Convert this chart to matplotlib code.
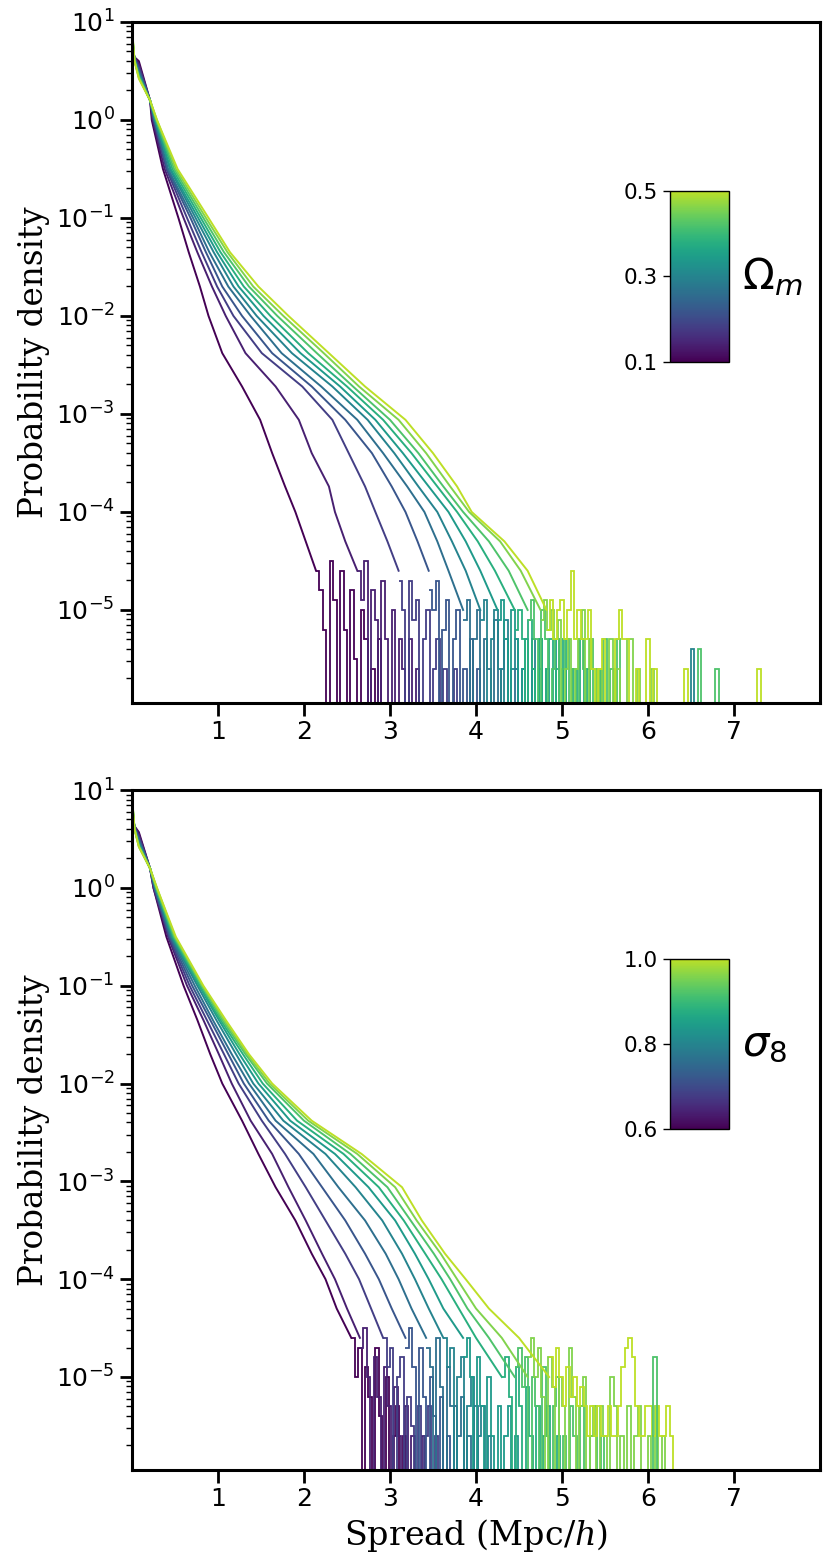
import numpy as np
import matplotlib
matplotlib.use("Agg")
import matplotlib.pyplot as plt
from matplotlib.colors import ListedColormap, Normalize
from matplotlib.cm import ScalarMappable

# parameter value of every curve, dark -> light
omega_m = [0.10, 0.14, 0.18, 0.22, 0.26, 0.30, 0.34, 0.38, 0.42, 0.46, 0.50]
sigma_8 = [0.60, 0.64, 0.68, 0.72, 0.76, 0.80, 0.84, 0.88, 0.92, 0.96, 1.00]

# the steep start near zero: log10(density)*100 at these spreads
front_x = [0.0, 0.03, 0.08]
omega_front = [[70, 64, 60], [72, 64, 57], [75, 63, 54], [78, 63, 51], [82, 62, 49], [85, 62, 47],
               [87, 61, 46], [89, 61, 45], [91, 60, 44], [93, 60, 43], [95, 60, 42]]
sigma_front = [[72, 63, 57], [74, 63, 55], [77, 62, 52], [80, 62, 50], [83, 61, 48], [86, 61, 46],
               [88, 61, 45], [90, 60, 44], [92, 60, 43], [93, 60, 42], [94, 60, 42]]

# smooth part: spread where each curve crosses these log10(density)*100 levels
body_levels = [20, 0, -50, -100, -135, -170, -200, -238, -272, -306, -340, -374, -400, -430, -460, -500]
omega_body = [
    [0.21, 0.23, 0.36, 0.54, 0.66, 0.79, 0.89, 1.05, 1.28, 1.49, 1.63, 1.78, 1.90, 2.02, 2.14],
    [0.21, 0.24, 0.38, 0.60, 0.76, 0.93, 1.09, 1.32, 1.67, 1.94, 2.09, 2.29, 2.36, 2.48, 2.62],
    [0.21, 0.25, 0.40, 0.64, 0.81, 0.99, 1.18, 1.51, 1.98, 2.33, 2.52, 2.71, 2.83, 2.97, 3.10],
    [0.21, 0.26, 0.41, 0.68, 0.86, 1.05, 1.28, 1.63, 2.09, 2.48, 2.79, 3.02, 3.18, 3.32, 3.45],
    [0.21, 0.26, 0.42, 0.71, 0.90, 1.12, 1.38, 1.74, 2.20, 2.62, 2.92, 3.20, 3.40, 3.55, 3.68, 3.85],
    [0.21, 0.27, 0.44, 0.74, 0.95, 1.18, 1.45, 1.86, 2.33, 2.74, 3.05, 3.33, 3.55, 3.72, 3.88, 4.05],
    [0.21, 0.27, 0.45, 0.77, 0.99, 1.24, 1.53, 1.96, 2.42, 2.83, 3.15, 3.45, 3.68, 3.88, 4.05, 4.25],
    [0.21, 0.28, 0.47, 0.80, 1.03, 1.30, 1.61, 2.05, 2.50, 2.92, 3.25, 3.55, 3.78, 4.02, 4.22, 4.45],
    [0.21, 0.28, 0.49, 0.83, 1.07, 1.36, 1.69, 2.15, 2.57, 3.00, 3.33, 3.62, 3.85, 4.15, 4.38, 4.60],
    [0.21, 0.29, 0.51, 0.86, 1.11, 1.41, 1.76, 2.23, 2.64, 3.10, 3.42, 3.70, 3.92, 4.28, 4.52, 4.75],
    [0.21, 0.29, 0.53, 0.89, 1.14, 1.47, 1.82, 2.29, 2.71, 3.18, 3.50, 3.78, 3.95, 4.33, 4.60, 4.82],
]
sigma_body = [
    [0.21, 0.25, 0.40, 0.60, 0.76, 0.91, 1.05, 1.28, 1.47, 1.67, 1.90, 2.09, 2.25, 2.38, 2.55],
    [0.21, 0.25, 0.42, 0.64, 0.83, 1.01, 1.16, 1.38, 1.63, 1.82, 2.02, 2.21, 2.36, 2.50, 2.65],
    [0.21, 0.26, 0.43, 0.67, 0.87, 1.07, 1.24, 1.51, 1.78, 2.02, 2.25, 2.48, 2.64, 2.78, 2.92],
    [0.21, 0.26, 0.44, 0.70, 0.91, 1.12, 1.30, 1.59, 1.94, 2.21, 2.48, 2.71, 2.87, 3.02, 3.18],
    [0.21, 0.27, 0.45, 0.73, 0.94, 1.16, 1.36, 1.67, 2.11, 2.40, 2.71, 2.95, 3.10, 3.25, 3.42],
    [0.21, 0.27, 0.46, 0.76, 0.98, 1.21, 1.41, 1.76, 2.25, 2.60, 2.91, 3.14, 3.29, 3.45, 3.62],
    [0.21, 0.28, 0.47, 0.78, 1.01, 1.25, 1.47, 1.84, 2.36, 2.75, 3.06, 3.29, 3.45, 3.62, 3.85],
    [0.21, 0.28, 0.48, 0.79, 1.03, 1.29, 1.52, 1.92, 2.46, 2.87, 3.16, 3.41, 3.60, 3.80, 4.00, 4.30],
    [0.21, 0.28, 0.49, 0.81, 1.05, 1.32, 1.57, 2.00, 2.54, 2.97, 3.24, 3.51, 3.70, 3.90, 4.15, 4.45],
    [0.21, 0.29, 0.50, 0.82, 1.07, 1.34, 1.60, 2.05, 2.62, 3.06, 3.31, 3.59, 3.78, 4.00, 4.30, 4.60],
    [0.21, 0.29, 0.51, 0.83, 1.09, 1.36, 1.63, 2.09, 2.67, 3.14, 3.37, 3.64, 3.88, 4.15, 4.50, 4.85],
]

# noisy tail: log10(density)*10 in bins of tail_w starting where the body ends, 0 = empty bin
tail_w = 0.04
omega_tail = [
    [-46, -48, -52, 0, -45, -49, 0, -46, -52, 0, -48, -55, 0, -50, -53, 0, -56, 0, -53, 0],
    [-46, -49, -45, 0, -48, -51, 0, -47, -53, 0, -50, 0, -53, -56, 0, -53, 0, -56, 0],
    [-47, -50, 0, -47, -51, -49, 0, -53, -50, 0, -56, -53, 0, -56, 0, 0, -56, 0],
    [-48, -50, -47, 0, -52, -49, 0, -53, -50, 0, -56, 0, -53, 0, -56, 0],
    [-51, -49, 0, -53, -50, 0, -53, -56, 0, -51, 0, -56, -53, 0, 0, -56, 0],
    [-51, -49, 0, -53, -50, -56, 0, -51, 0, -56, -53, 0, -56, 0, 0, -53, 0, -56, 0],
    [-51, -49, -53, 0, -50, -53, 0, -56, -53, 0, -56, 0, -53, 0, -56, 0, 0, -53, 0, -56, 0],
    [-52, -50, -53, 0, -51, -56, 0, -53, 0, -56, -53, 0, -56, 0, -53, 0, 0, -56, 0, -53, 0, -56,
     0, 0, -56, 0],
    [-51, -49, -53, 0, -50, -53, 0, -56, -53, 0, -56, -53, 0, -56, 0, -53, -56, 0, -53, 0, -56, 0,
     -53, 0, -56, 0, -53, 0],
    [-51, -49, -52, -50, -53, -51, 0, -56, -53, 0, -56, -53, -50, 0, -53, -56, 0, -56, 0, 0, -53,
     0, -56, 0, 0, -53, -53, 0, -56, 0, 0, 0, -56, 0],
    [-52, -49, -53, -50, -49, -53, -50, -46, -53, -50, -53, -53, -50, -56, 0, -56, -53, 0, 0, 0,
     -53, -50, -53, -53, 0, 0, -56, 0, 0, -53, 0, -56, 0],
]
sigma_tail = [
    [-46, -50, -47, 0, -49, -52, 0, -47, -54, 0, -50, 0, -56, -53, 0, -56, 0],
    [-47, -45, -50, 0, -48, -52, 0, -49, -53, 0, -51, -56, 0, -53, 0, -56, 0, 0, -56, 0],
    [-46, -49, -47, 0, -50, -48, 0, -52, -55, 0, -53, 0, -56, -53, 0, -56, 0],
    [-47, -45, -49, 0, -47, -52, 0, -50, -54, 0, -52, 0, -56, 0, -53, 0],
    [-47, -49, 0, -46, -51, 0, -49, -53, 0, -56, -52, 0, -56, 0, -53, 0],
    [-46, -49, -47, 0, -50, -48, 0, -53, -50, 0, -56, -53, 0, -56, 0],
    [-48, -46, -50, 0, -48, -53, 0, -50, -56, 0, -53, 0, -56, -53, 0, -56, 0],
    [-50, -48, -52, 0, -49, -53, 0, -51, -56, 0, -53, 0, -56, -53, 0, 0, -56, 0],
    [-49, -47, -51, -48, 0, -50, -53, 0, -49, -56, 0, -53, -50, 0, -56, 0, -53, -56, 0, -53, 0,
     0, -56, -53, 0, -56, 0],
    [-48, -46, -50, -47, -52, 0, -48, -51, 0, -50, -53, 0, -47, -52, 0, -53, -50, 0, -56, -53, 0,
     -53, -56, 0, -50, -53, 0, -56, 0, -53, 0, -56, -53, 0, 0, -56, 0, -53, 0, -56, 0],
    [-48, -51, -47, -50, -53, -49, -52, -50, -53, -51, -53, -56, -53, -56, -53, -56, -56, -53, -56,
     -56, -53, -49, -47, -46, -48, -53, -56, -56, -53, -53, -56, -53, -56, -56, -53, -56, 0],
]

# isolated far-out bins: (spread, log10(density)*10, curve index)
omega_far = [(6.42, -56, 10), (6.50, -54, 5), (6.58, -54, 8), (6.78, -56, 8), (7.27, -56, 10)]
sigma_far = [(6.06, -48, 8)]

cmap = ListedColormap(plt.cm.viridis(np.linspace(0, 0.9, 256)))


def draw_panel(ax, params, fronts, bodies, tails, far, vmin, vmax):
    norm = Normalize(vmin, vmax)
    for i, p in enumerate(params):
        c = cmap(norm(p))
        xs = list(front_x) + list(bodies[i])
        ys = list(fronts[i]) + body_levels[:len(bodies[i])]
        ax.plot(xs, 10 ** (np.array(ys) / 100), color=c, lw=1.4)
        t = tails[i]
        edges = bodies[i][-1] + tail_w * np.arange(len(t) + 1)
        vals = [10 ** (v / 10) if v else 0 for v in t]
        ax.stairs(vals, edges, baseline=None, color=c, lw=1.3)
    for x, v, k in far:
        ax.stairs([10 ** (v / 10)], [x, x + tail_w], baseline=0, color=cmap(norm(params[k])), lw=1.3)
    ax.set_yscale("log")
    ax.set_xlim(0, 8)
    ax.set_ylim(1.12e-6, 10)
    ax.set_xticks([1, 2, 3, 4, 5, 6, 7])
    ax.set_yticks([10.0 ** k for k in range(-5, 2)])
    ax.tick_params(which="major", length=9, width=2, labelsize=18)
    ax.tick_params(which="minor", length=4.5, width=1)
    for s in ax.spines.values():
        s.set_linewidth(2.2)
    ax.set_ylabel("Probability density", family="DejaVu Serif", fontsize=23.5)
    return norm


def add_colorbar(fig, rect, norm, ticks, label):
    cax = fig.add_axes(rect)
    cb = fig.colorbar(ScalarMappable(norm=norm, cmap=cmap), cax=cax, ticks=ticks)
    cb.outline.set_linewidth(1)
    cax.yaxis.set_ticks_position("left")
    cax.tick_params(labelsize=15.5, length=5, width=1)
    cax.text(1.22, 0.5, label, transform=cax.transAxes, va="center", ha="left", fontsize=30)


fig = plt.figure(figsize=(8.3, 15.66), dpi=100)
ax1 = fig.add_axes([0.159, 0.551, 0.829, 0.435])
ax2 = fig.add_axes([0.159, 0.0613, 0.829, 0.4342])

n1 = draw_panel(ax1, omega_m, omega_front, omega_body, omega_tail, omega_far, 0.1, 0.5)
n2 = draw_panel(ax2, sigma_8, sigma_front, sigma_body, sigma_tail, sigma_far, 0.6, 1.0)
ax2.set_xlabel("Spread (Mpc/$h$)", family="DejaVu Serif", fontsize=24, math_fontfamily="dejavuserif")

add_colorbar(fig, [0.807, 0.769, 0.071, 0.109], n1, [0.1, 0.3, 0.5], r"$\Omega_m$")
add_colorbar(fig, [0.807, 0.279, 0.071, 0.1086], n2, [0.6, 0.8, 1.0], r"$\sigma_8$")

fig.savefig("out.png", dpi=100)
